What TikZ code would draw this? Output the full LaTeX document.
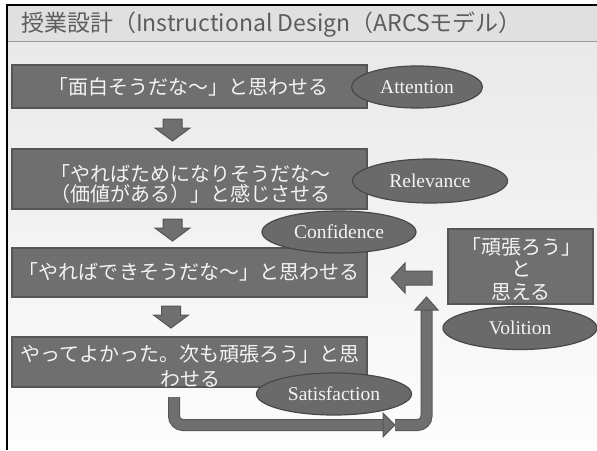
\documentclass[tikz,border=0pt]{standalone}
\usepackage{fontspec}
\newfontfamily\jp{Noto Sans CJK JP}
\newfontfamily\en{Liberation Serif}
\usetikzlibrary{shapes.geometric}
\definecolor{boxfill}{HTML}{6F6F6F}
\definecolor{boxline}{HTML}{555555}
\definecolor{ellfill}{HTML}{6A6A6A}
\definecolor{ellline}{HTML}{484848}
\definecolor{txt}{HTML}{F4F4F4}
\definecolor{titletxt}{HTML}{5C5C5C}
\definecolor{band}{HTML}{E0E0E0}
\definecolor{bandline}{HTML}{9A9A9A}
\definecolor{bgtop}{HTML}{E9E9E9}
\definecolor{bgbot}{HTML}{FDFDFD}
\tikzset{
  stepbox/.style={draw=boxline, fill=boxfill, line width=1.2pt, inner sep=0pt},
  boxtext/.style={text=txt, font=\jp\fontsize{20}{22}\selectfont, align=center, inner sep=0pt},
  phase/.style={ellipse, draw=ellline, fill=ellfill, line width=1.2pt, inner sep=0pt,
    text=txt, font=\en\fontsize{19.5}{21}\selectfont},
  blockarrow/.style={draw=boxline, fill=boxfill, line width=1pt, line join=miter},
  tube/.style={draw=boxline, double=boxfill, double distance=10pt, line width=1pt, rounded corners=9pt}
}
\begin{document}
\begin{tikzpicture}[x=1pt,y=-1pt]
\useasboundingbox (0,0) rectangle (597,450);
% background
\fill[white] (0,0) rectangle (597,450);
\shade[top color=bgtop, bottom color=bgbot] (7,41) rectangle (597,450);
\fill[band] (7,5) rectangle (597,41);
\draw[bandline, line width=1.5pt] (7,41.5) -- (597,41.5);
\draw[black, line width=1.5pt] (7,450) -- (7,5) -- (597,5);
% title
\node[text=titletxt, font=\jp\fontsize{23}{25}\selectfont, anchor=west, inner sep=0pt] (title) at (21,25)
  {授業設計（Instructional Design（ARCSモデル）};

% boxes
\node[stepbox, minimum width=355pt, minimum height=43pt] (b1) at (189.5,86.5) {};
\node[stepbox, minimum width=355pt, minimum height=60pt] (b2) at (189.5,179) {};
\node[stepbox, minimum width=355pt, minimum height=49pt] (b3) at (189.5,272.5) {};
\node[stepbox, minimum width=355pt, minimum height=50pt] (b4) at (189.5,362) {};
\node[stepbox, minimum width=145pt, minimum height=75pt] (b5) at (520.5,266.5) {};

\node[boxtext] (t1) at (188,87) {「面白そうだな～」と思わせる};
\node[boxtext, font=\jp\fontsize{20}{20}\selectfont] (t2) at (190,184) {「やればためになりそうだな～\\（価値がある）」と感じさせる};
\node[boxtext] (t3) at (189,272) {「やればできそうだな～」と思わせる};
\node[boxtext, font=\jp\fontsize{20}{25}\selectfont] (t4) at (190,366) {やってよかった。次も頑張ろう」と思\\わせる};
\node[boxtext, font=\jp\fontsize{20}{22.5}\selectfont] (t5) at (521,269) {「頑張ろう」\\と\\思える};

% down arrows
\draw[blockarrow] (163,119) -- (182,119) -- (182,128) -- (190,128) -- (172.5,141) -- (155,128) -- (163,128) -- cycle;
\draw[blockarrow] (163,219) -- (182,219) -- (182,228) -- (190,228) -- (172.5,241) -- (155,228) -- (163,228) -- cycle;
\draw[blockarrow] (161.5,306) -- (180.5,306) -- (180.5,315) -- (188.5,315) -- (171,328) -- (153.5,315) -- (161.5,315) -- cycle;
% left arrow
\draw[blockarrow] (432,271) -- (432,285) -- (405,285) -- (405,293) -- (391,278) -- (405,263) -- (405,271) -- cycle;

% feedback loop
\coordinate (s1) at (174,397);
\coordinate (c1) at (174,425);
\coordinate (e1) at (384,425);
\draw[tube] (s1) -- (c1) -- (e1);
\draw[blockarrow] (383,413) -- (395,425) -- (383,437) -- cycle;
\coordinate (s2) at (395,425);
\coordinate (c2) at (426.5,425);
\coordinate (e2) at (426.5,309.5);
\draw[tube] (s2) -- (c2) -- (e2);
\draw[blockarrow] (415,310) -- (426.5,297) -- (438,310) -- cycle;

% ellipses
\node[phase, minimum width=131pt, minimum height=42pt] (att) at (417,87) {Attention};
\node[phase, minimum width=155pt, minimum height=44pt] (rel) at (430,181) {Relevance};
\node[phase, minimum width=154pt, minimum height=42pt] (conf) at (339,232) {Confidence};
\node[phase, minimum width=155pt, minimum height=42pt] (sat) at (334,394) {Satisfaction};
\node[phase, minimum width=154pt, minimum height=43pt] (vol) at (520,328) {Volition};
\end{tikzpicture}
\end{document}
